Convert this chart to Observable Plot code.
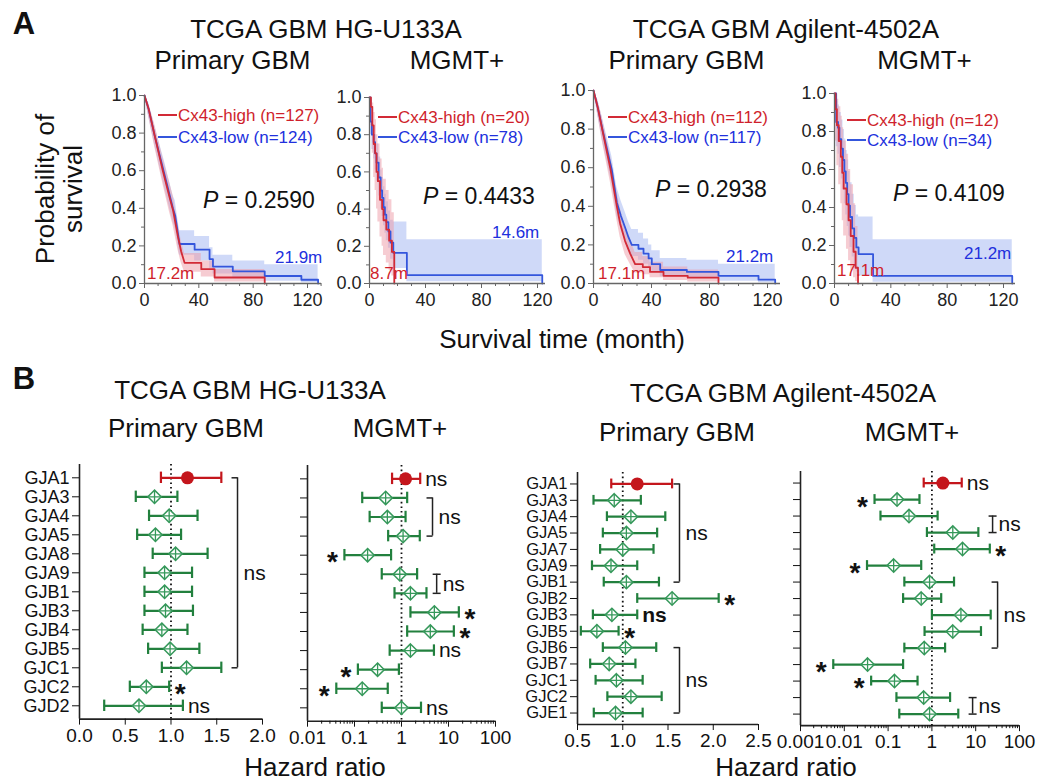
<!DOCTYPE html>
<html><head><meta charset="utf-8">
<script src="https://cdn.jsdelivr.net/npm/d3@7"></script>
<script src="https://cdn.jsdelivr.net/npm/@observablehq/plot@0.6"></script>
<style>
body{margin:0;background:#fff;}
#fig{position:relative;width:1037px;height:782px;overflow:hidden;font-family:"Liberation Sans",Arial,Helvetica,sans-serif;color:#111;background:#fff;}
#fig svg{overflow:visible;position:absolute;}
.lbl{position:absolute;white-space:nowrap;line-height:1;}
</style></head><body><div id="fig"></div><script>
// ---------------- DATA ----------------
// Kaplan–Meier curves: [time (month), survival, lower CI, upper CI]
const a1High = [[0,1,1,1],[3,0.93,0.89,0.96],[7.4,0.79,0.73,0.85],[13.5,0.60,0.53,0.67],[18.4,0.46,0.38,0.54],[21,0.39,0.31,0.47],[24.6,0.25,0.18,0.32],[27,0.17,0.11,0.23],[29.5,0.11,0.06,0.16],[41.8,0.11,0.06,0.16],[41.8,0.076,0.035,0.12],[51.6,0.076,0.035,0.12],[51.6,0.032,0.008,0.075],[88.5,0.032,0.008,0.075],[88.5,0,0.008,0.075]];
const a1Low = [[0,1,1,1],[3,0.93,0.89,0.96],[7.4,0.79,0.74,0.84],[14.7,0.58,0.51,0.65],[20.9,0.40,0.33,0.47],[22.6,0.36,0.29,0.44],[25.8,0.21,0.15,0.28],[36.9,0.21,0.15,0.28],[36.9,0.18,0.12,0.25],[47.9,0.18,0.12,0.25],[47.9,0.13,0.08,0.19],[50.4,0.13,0.08,0.19],[50.4,0.09,0.05,0.15],[65,0.09,0.05,0.15],[65,0.065,0.03,0.12],[88.5,0.065,0.03,0.12],[88.5,0.04,0.012,0.10],[115.5,0.04,0.012,0.10],[115.5,0.02,0.004,0.10],[127.8,0.02,0.004,0.10],[127.8,0,0.004,0.10]];
const a2High = [[0,1,1,1],[1,0.95,0.85,1],[2,0.85,0.70,0.97],[3,0.75,0.57,0.92],[4,0.70,0.50,0.88],[5,0.60,0.40,0.80],[6,0.55,0.33,0.75],[7.5,0.45,0.25,0.67],[9,0.40,0.20,0.62],[10,0.34,0.15,0.56],[12,0.29,0.11,0.50],[14,0.23,0.07,0.45],[16,0.17,0.04,0.38],[17.7,0,0.04,0.38]];
const a2Low = [[0,1,1,1],[0.7,0.87,0.80,0.94],[1.7,0.80,0.72,0.88],[3,0.76,0.67,0.85],[4,0.70,0.61,0.80],[5,0.65,0.55,0.75],[6.5,0.57,0.47,0.68],[8,0.50,0.40,0.61],[9,0.46,0.36,0.57],[10,0.41,0.31,0.52],[11,0.37,0.27,0.48],[12,0.33,0.23,0.44],[13.5,0.28,0.19,0.39],[15,0.22,0.13,0.34],[17,0.165,0.08,0.33],[26.7,0.045,0.01,0.235],[123.4,0,0.01,0.235]];
const a3High = [[0,1,1,1],[3,0.91,0.87,0.95],[5.7,0.81,0.75,0.87],[11.5,0.60,0.53,0.67],[16.1,0.40,0.33,0.48],[18.4,0.31,0.24,0.39],[21.8,0.22,0.15,0.30],[25.3,0.155,0.10,0.23],[28.7,0.10,0.055,0.16],[34,0.10,0.055,0.16],[34,0.085,0.045,0.14],[39,0.085,0.045,0.14],[39,0.06,0.03,0.11],[48.3,0.06,0.03,0.11],[48.3,0.04,0.015,0.085],[65,0.04,0.015,0.085],[65,0.03,0.008,0.07],[86.2,0.03,0.008,0.07],[86.2,0,0.008,0.07]];
const a3Low = [[0,1,1,1],[3,0.91,0.87,0.95],[6.4,0.79,0.73,0.85],[12.6,0.59,0.52,0.66],[16.1,0.42,0.35,0.50],[18.9,0.35,0.28,0.43],[21.8,0.29,0.22,0.37],[24.1,0.24,0.17,0.32],[26.4,0.20,0.14,0.28],[31,0.20,0.14,0.28],[31,0.18,0.12,0.26],[34.5,0.18,0.12,0.26],[34.5,0.155,0.10,0.23],[38,0.155,0.10,0.23],[38,0.13,0.08,0.20],[40.2,0.13,0.08,0.20],[40.2,0.10,0.06,0.17],[46,0.10,0.06,0.17],[46,0.07,0.035,0.13],[64.4,0.07,0.035,0.13],[64.4,0.06,0.028,0.12],[86.2,0.06,0.028,0.12],[86.2,0.04,0.012,0.10],[113.8,0.04,0.012,0.10],[113.8,0.02,0.004,0.10],[125.3,0.02,0.004,0.10],[125.3,0,0.004,0.10]];
const a4High = [[0,1,1,1],[0.8,0.917,0.75,1],[1.7,0.833,0.62,0.97],[3,0.75,0.52,0.93],[4.5,0.667,0.42,0.88],[5.5,0.583,0.33,0.82],[6.5,0.5,0.25,0.75],[8.5,0.417,0.18,0.68],[10,0.333,0.12,0.60],[11.5,0.25,0.07,0.52],[13.5,0.167,0.03,0.42],[15,0.083,0.01,0.30],[16.7,0,0.01,0.30]];
const a4Low = [[0,1,1,1],[1.2,0.85,0.72,0.96],[2.5,0.82,0.68,0.94],[3.5,0.76,0.61,0.90],[4.8,0.71,0.55,0.86],[6,0.65,0.49,0.81],[7,0.59,0.42,0.76],[8,0.53,0.36,0.70],[9,0.47,0.30,0.65],[10,0.41,0.25,0.59],[11,0.35,0.19,0.53],[12.5,0.29,0.14,0.47],[14,0.24,0.10,0.41],[15.5,0.19,0.06,0.36],[17.1,0.155,0.04,0.35],[27.4,0.04,0.006,0.23],[126.2,0,0.006,0.23]];

const nHigh = [127, 20, 112, 12];
const nLow = [124, 78, 117, 34];
const pValues = ["0.2590", "0.4433", "0.2938", "0.4109"];
const medianHigh = ["17.2m", "8.7m", "17.1m", "17.1m"];
const medianLow = ["21.9m", "14.6m", "21.2m", "21.2m"];
const kmTitles = ["Primary GBM", "MGMT+", "Primary GBM", "MGMT+"];
const datasetTitles = ["TCGA GBM HG-U133A", "TCGA GBM Agilent-4502A"];
const kmYTicks = [0, 0.2, 0.4, 0.6, 0.8, 1.0];
const kmXTicks = [0, 40, 80, 120];

// Forest plots (hazard ratio, 95% CI)
const genesU133 = ["GJA1","GJA3","GJA4","GJA5","GJA8","GJA9","GJB1","GJB3","GJB4","GJB5","GJC1","GJC2","GJD2"];
const b1HR = [1.18,0.82,0.98,0.83,1.05,0.93,0.93,0.94,0.90,0.99,1.17,0.73,0.65];
const b1Lo = [0.89,0.615,0.76,0.63,0.80,0.71,0.71,0.71,0.69,0.75,0.90,0.55,0.27];
const b1Hi = [1.55,1.07,1.29,1.11,1.40,1.23,1.23,1.24,1.18,1.31,1.55,0.98,1.13];
const b1Sig = ["","","","","","","","","","","","*","ns"];
const b1Groups = [["GJA1","GJC1"]];

const b2HR = [1.22,0.46,0.50,1.08,0.19,0.92,1.55,5.0,4.1,1.55,0.31,0.146,1.0];
const b2Lo = [0.63,0.146,0.21,0.52,0.061,0.38,0.71,1.55,1.32,0.56,0.118,0.041,0.38];
const b2Hi = [2.5,1.32,1.22,2.45,0.60,2.15,3.4,16.6,13,4.9,0.88,0.51,2.6];
const b2Sig = ["ns","","","","*","","","*","*","ns","*","*","ns"];
const b2Groups = [["GJA3","GJA5"],["GJA9","GJB1"]];

const genesAgilent = ["GJA1","GJA3","GJA4","GJA5","GJA7","GJA9","GJB1","GJB2","GJB3","GJB5","GJB6","GJB7","GJC1","GJC2","GJE1"];
const b3HR = [1.16,0.906,1.09,1.04,1.0,0.87,1.04,1.545,0.88,0.714,1.03,0.85,0.93,1.09,0.92];
const b3Lo = [0.873,0.677,0.825,0.78,0.75,0.66,0.79,1.16,0.67,0.537,0.78,0.64,0.70,0.83,0.68];
const b3Hi = [1.545,1.20,1.47,1.38,1.34,1.16,1.40,2.06,1.16,0.954,1.37,1.14,1.22,1.43,1.22];
const b3Sig = ["","","","","","","","*","ns","*","","","","",""];
const b3BoldSig = ["GJB3"];
const b3Groups = [["GJA1","GJB1"],["GJB6","GJE1"]];

const b4HR = [1.78,0.16,0.30,3.0,5.0,0.134,0.885,0.57,4.6,3.0,0.67,0.034,0.14,0.65,0.885];
const b4Lo = [0.65,0.049,0.067,0.77,1.13,0.033,0.235,0.22,1.0,0.68,0.235,0.0056,0.041,0.155,0.18];
const b4Hi = [4.8,0.52,1.35,11.5,21,0.57,3.2,1.63,22,13.2,2.0,0.22,0.47,2.6,4.0];
const b4Sig = ["ns","*","","","*","*","","","","","","*","*","",""];
const b4Groups = [["GJA4","GJA5"],["GJB1","GJB6"],["GJC2","GJE1"]];

// ---------------- LAYOUT / STYLE ----------------
const FONT = '"Liberation Sans", Arial, Helvetica, sans-serif';
const RED = "#d22a36", BLUE = "#3456dc";
const RED_TXT = "#cf1f2c", BLUE_TXT = "#2130dd";
const RED_BAND = "#ee9aa6", BLUE_BAND = "#9fb3f2";
const GREEN = "#22803e", GREEN2 = "#35985a", REF_RED = "#c4161c";
const fig = document.getElementById("fig");

function addText(html, x, y, size, o = {}) {
  const d = document.createElement("div");
  d.className = "lbl";
  d.innerHTML = html;
  Object.assign(d.style, {left: x + "px", top: y + "px", fontSize: size + "px",
    color: o.color || "#111", fontWeight: o.weight || "normal"});
  const tx = o.anchor === "start" ? "0" : o.anchor === "end" ? "-100%" : "-50%";
  d.style.transform = `translate(${tx},-50%)` + (o.rotate ? ` rotate(${o.rotate}deg)` : "");
  fig.appendChild(d);
  return d;
}
function addLine(x1, x2, y, color) {
  const d = document.createElement("div");
  Object.assign(d.style, {position: "absolute", left: x1 + "px", top: (y - 1) + "px",
    width: (x2 - x1) + "px", height: "2px", background: color});
  fig.appendChild(d);
}
function place(svg, left, top) {
  svg.style.left = left + "px";
  svg.style.top = top + "px";
  fig.appendChild(svg);
}

const kmData = [[a1High, a1Low], [a2High, a2Low], [a3High, a3Low], [a4High, a4Low]];
const kmLayout = [
  {left0: 144, x120: 307, xEnd: 321, top0: 95, bottom0: 283, curve: "linear", legX: 158, legY: [115, 137], pX: 203, pY: 200, mHi: [147, 273], mLo: [275, 257]},
  {left0: 369, x120: 537, xEnd: 545, top0: 97, bottom0: 283, curve: "step-after", legX: 378, legY: [117, 137], pX: 423, pY: 196, mHi: [370, 273], mLo: [492, 232]},
  {left0: 593, x120: 767, xEnd: 780, top0: 90, bottom0: 283, curve: "linear", legX: 608, legY: [117, 137], pX: 655, pY: 189, mHi: [598, 273], mLo: [726, 256]},
  {left0: 834, x120: 1003, xEnd: 1015, top0: 93, bottom0: 283, curve: "step-after", legX: 847, legY: [120, 140], pX: 893, pY: 193, mHi: [837, 270], mLo: [964, 253]}
];

function kmPanel(k) {
  const L = kmLayout[k];
  const [hiD, loD] = kmData[k];
  const ml = 50, mr = 15, mt = 15, mb = 40;
  const W = ml + (L.xEnd - L.left0) + mr, H = mt + (L.bottom0 - L.top0) + mb;
  const xmax = 120 * (L.xEnd - L.left0) / (L.x120 - L.left0);
  const minorX = d3.range(10, xmax, 10).filter(v => v % 40 !== 0);
  const T = d => d[0], S = d => d[1], LO = d => d[2], HI = d => d[3];
  const svg = Plot.plot({
    width: W, height: H, marginLeft: ml, marginRight: mr, marginTop: mt, marginBottom: mb,
    x: {domain: [0, xmax], label: null, axis: null},
    y: {domain: [0, 1], label: null, axis: null},
    style: {fontFamily: FONT, fontSize: "18px", color: "#222", background: "transparent", overflow: "visible"},
    marks: [
      Plot.areaY(loD, {x: T, y1: LO, y2: HI, curve: L.curve, fill: BLUE_BAND, fillOpacity: 0.5}),
      Plot.areaY(hiD, {x: T, y1: LO, y2: HI, curve: L.curve, fill: RED_BAND, fillOpacity: 0.5}),
      Plot.line(loD, {x: T, y: S, curve: L.curve, stroke: BLUE, strokeWidth: 1.8}),
      Plot.line(hiD, {x: T, y: S, curve: L.curve, stroke: RED, strokeWidth: 1.8}),
      Plot.ruleY([0], {x1: 0, x2: xmax, stroke: "#666", strokeWidth: 1.3}),
      Plot.ruleX([0], {y1: 0, y2: 1, stroke: "#666", strokeWidth: 1.3}),
      Plot.axisX({ticks: kmXTicks, tickSize: 5, tickPadding: 5, tickFormat: d3.format("d"), label: null, stroke: "#666"}),
      Plot.axisX({ticks: minorX, tickSize: 3, tickFormat: () => "", label: null, stroke: "#666"}),
      Plot.axisY({ticks: kmYTicks, tickSize: 5, tickPadding: 3, tickFormat: d3.format(".1f"), label: null, stroke: "#666"}),
      Plot.axisY({ticks: [0.1, 0.3, 0.5, 0.7, 0.9], tickSize: 3, tickFormat: () => "", label: null, stroke: "#666"})
    ]
  });
  place(svg, L.left0 - ml, L.top0 - mt);
  // legend
  addLine(L.legX, L.legX + 19, L.legY[0], RED);
  addText(`Cx43-high (n=${nHigh[k]})`, L.legX + 20, L.legY[0], 17, {anchor: "start", color: RED_TXT});
  addLine(L.legX, L.legX + 19, L.legY[1], BLUE);
  addText(`Cx43-low (n=${nLow[k]})`, L.legX + 20, L.legY[1], 17, {anchor: "start", color: BLUE_TXT});
  // p value
  addText(`<i>P</i> = ${pValues[k]}`, L.pX, L.pY, 23, {anchor: "start"});
  // medians
  addText(medianHigh[k], L.mHi[0], L.mHi[1], 17, {anchor: "start", color: RED_TXT});
  addText(medianLow[k], L.mLo[0], L.mLo[1], 17, {anchor: "start", color: BLUE_TXT});
  // panel title
  addText(kmTitles[k], (L.left0 + L.xEnd) / 2, 60, 26);
}

const forestData = [
  {genes: genesU133, hr: b1HR, lo: b1Lo, hi: b1Hi, sig: b1Sig, groups: b1Groups, bold: []},
  {genes: genesU133, hr: b2HR, lo: b2Lo, hi: b2Hi, sig: b2Sig, groups: b2Groups, bold: []},
  {genes: genesAgilent, hr: b3HR, lo: b3Lo, hi: b3Hi, sig: b3Sig, groups: b3Groups, bold: b3BoldSig},
  {genes: genesAgilent, hr: b4HR, lo: b4Lo, hi: b4Hi, sig: b4Sig, groups: b4Groups, bold: []}
];
const logMinor = (e0, e1) => d3.range(e0, e1).flatMap(e => d3.range(2, 10).map(k => +(k * Math.pow(10, e)).toPrecision(3)));
const forestLayout = [
  {axisX: 79, xMaxPx: 262, top: 463.7, bottom: 718.3, type: "linear", domain: [0, 2], ticks: [0, 0.5, 1, 1.5, 2], fmt: d3.format(".1f"), minor: [], labels: true, labelSize: 18, bracketX: [1.727]},
  {axisX: 307, xMaxPx: 495, top: 464.6, bottom: 720.3, type: "log", domain: [0.01, 100], ticks: [0.01, 0.1, 1, 10, 100], fmt: d => String(d), minor: logMinor(-2, 2), labels: false, bracketX: [4.57, 5.6]},
  {axisX: 577, xMaxPx: 758, top: 471.5, bottom: 723.5, type: "linear", domain: [0.5, 2.5], ticks: [0.5, 1, 1.5, 2, 2.5], fmt: d3.format(".1f"), minor: [], labels: true, labelSize: 16.5, bracketX: [1.627, 1.627]},
  {axisX: 800, xMaxPx: 1019, top: 471.45, bottom: 725.6, type: "log", domain: [0.001, 100], ticks: [0.001, 0.01, 0.1, 1, 10, 100], fmt: d => String(d), minor: logMinor(-3, 2), labels: false, bracketX: [24.3, 31.6, 8.5]}
];
const capLeft = {draw(ctx, size) { const r = Math.sqrt(size / Math.PI); ctx.moveTo(-r, 0); ctx.lineTo(0, 0); }};
const capBoth = {draw(ctx, size) { const r = Math.sqrt(size / Math.PI); ctx.moveTo(-r, 0); ctx.lineTo(r, 0); }};

function forestPanel(k) {
  const F = forestLayout[k], D = forestData[k];
  const n = D.genes.length;
  const ml = 80, mr = 20, mt = 15, mb = 35;
  const W = ml + (F.xMaxPx - F.axisX) + mr, H = mt + (F.bottom - F.top) + mb;
  const isLog = F.type === "log";
  const rows = D.genes.map((g, i) => ({i, g, hr: D.hr[i], lo: D.lo[i], hi: D.hi[i], sig: D.sig[i], bold: D.bold.includes(g)}));
  const ref = rows.slice(0, 1), others = rows.slice(1);
  const stars = rows.filter(r => r.sig === "*");
  const starL = stars.filter(r => isLog && r.hr < 1), starR = stars.filter(r => !(isLog && r.hr < 1));
  const ns = rows.filter(r => r.sig === "ns");
  const groups = D.groups.map(([a, b], j) => {
    const i1 = D.genes.indexOf(a), i2 = D.genes.indexOf(b);
    return {x: F.bracketX[j], i1, i2, mid: (i1 + i2) / 2, both: i2 - i1 <= 1};
  });
  const caps = groups.flatMap(g => [{x: g.x, i: g.i1, both: g.both}, {x: g.x, i: g.i2, both: g.both}]);
  const bar = (data, color) => [
    Plot.ruleY(data, {y: "i", x1: "lo", x2: "hi", stroke: color, strokeWidth: 2.2}),
    Plot.ruleX(data, {x: "lo", y1: r => r.i - 0.3, y2: r => r.i + 0.3, stroke: color, strokeWidth: 2.2}),
    Plot.ruleX(data, {x: "hi", y1: r => r.i - 0.3, y2: r => r.i + 0.3, stroke: color, strokeWidth: 2.2})
  ];
  const svg = Plot.plot({
    width: W, height: H, marginLeft: ml, marginRight: mr, marginTop: mt, marginBottom: mb,
    x: {type: F.type, domain: F.domain, label: null, axis: null},
    y: {domain: [n - 0.3, -0.7], label: null, axis: null},
    style: {fontFamily: FONT, fontSize: "19px", color: "#111", background: "transparent", overflow: "visible"},
    marks: [
      Plot.ruleX([1], {stroke: "#111", strokeWidth: 1.8, strokeDasharray: "1.6,3"}),
      ...bar(others, GREEN),
      ...bar(ref, REF_RED),
      Plot.dot(others, {x: "hr", y: "i", symbol: "diamond2", r: 6, stroke: GREEN2, fill: "white", strokeWidth: 1.5}),
      Plot.dot(others, {x: "hr", y: "i", symbol: "plus", r: 4.2, stroke: GREEN2, strokeWidth: 1.3}),
      Plot.dot(ref, {x: "hr", y: "i", r: 6.5, fill: REF_RED}),
      Plot.text(starR, {x: "hi", y: "i", text: "sig", dx: 11, dy: 7, fontSize: 28, fontWeight: "bold"}),
      Plot.text(starL, {x: "lo", y: "i", text: "sig", dx: -12, dy: 7, fontSize: 28, fontWeight: "bold"}),
      Plot.text(ns.filter(r => !r.bold), {x: "hi", y: "i", text: "sig", dx: 5, textAnchor: "start", fontSize: 21}),
      Plot.text(ns.filter(r => r.bold), {x: "hi", y: "i", text: "sig", dx: 5, textAnchor: "start", fontSize: 21, fontWeight: "bold"}),
      Plot.ruleX(groups, {x: "x", y1: "i1", y2: "i2", stroke: "#222", strokeWidth: 1.5}),
      Plot.dot(caps.filter(c => !c.both), {x: "x", y: "i", symbol: capLeft, r: 6, stroke: "#222", fill: "none", strokeWidth: 1.5}),
      Plot.dot(caps.filter(c => c.both), {x: "x", y: "i", symbol: capBoth, r: 4, stroke: "#222", fill: "none", strokeWidth: 1.5}),
      Plot.text(groups, {x: "x", y: "mid", text: () => "ns", dx: 6, textAnchor: "start", fontSize: 21}),
      Plot.ruleX([F.domain[0]], {stroke: "#222", strokeWidth: 1.6}),
      Plot.ruleY([n - 0.3], {stroke: "#222", strokeWidth: 1.6}),
      Plot.axisX({ticks: F.ticks, tickFormat: F.fmt, tickSize: 6, tickPadding: 3, fontSize: 19, label: null}),
      Plot.axisX({ticks: F.minor, tickSize: 3, tickFormat: () => "", label: null}),
      Plot.axisY({ticks: d3.range(n), tickFormat: i => F.labels ? D.genes[i] : "", tickSize: 7, tickPadding: 3, fontSize: F.labelSize || 18, label: null})
    ]
  });
  place(svg, F.axisX - ml, F.top - mt);
}

// ---------------- RENDER ----------------
addText("A", 24, 23, 31, {weight: "bold"});
addText(datasetTitles[0], 326, 29, 26);
addText(datasetTitles[1], 786, 29, 26);
for (let k = 0; k < 4; k++) kmPanel(k);
addText("Probability of", 45, 189, 26, {rotate: -90});
addText("survival", 73, 189, 26, {rotate: -90});
addText("Survival time (month)", 562, 339, 26);

addText("B", 24, 378, 31, {weight: "bold"});
addText(datasetTitles[0], 250, 390, 26);
addText(kmTitles[0], 186, 428, 26);
addText(kmTitles[1], 400, 428, 26);
addText(datasetTitles[1], 783, 393, 26);
addText(kmTitles[2], 677, 432, 26);
addText(kmTitles[3], 912, 432, 26);
for (let k = 0; k < 4; k++) forestPanel(k);
addText("Hazard ratio", 315, 767, 26);
addText("Hazard ratio", 786, 767, 26);
</script></body></html>
